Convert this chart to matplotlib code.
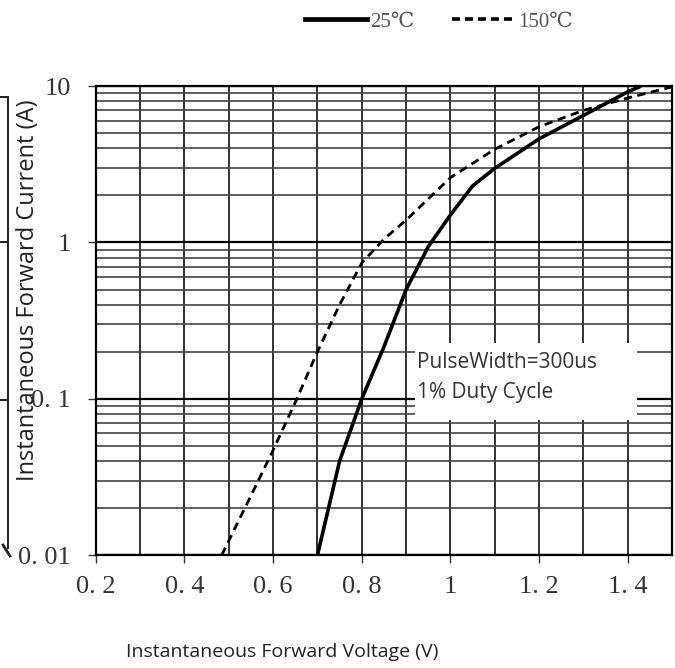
import matplotlib
matplotlib.use('Agg')
import matplotlib.pyplot as plt
from matplotlib.lines import Line2D
from matplotlib.patches import Rectangle
from matplotlib.ticker import FixedLocator, LogLocator, NullFormatter

# --- data ---
v_25 = [0.70, 0.75, 0.80, 0.85, 0.90, 0.95, 1.00, 1.05, 1.10, 1.20, 1.30, 1.40, 1.43]
i_25 = [0.01, 0.040, 0.10, 0.215, 0.50, 0.94, 1.5, 2.3, 2.98, 4.6, 6.5, 9.2, 10.0]

v_150 = [0.484, 0.55, 0.60, 0.65, 0.70, 0.75, 0.80, 0.85, 0.90, 1.00, 1.10, 1.20, 1.30, 1.40, 1.50]
i_150 = [0.01, 0.024, 0.047, 0.095, 0.20, 0.40, 0.74, 1.05, 1.39, 2.6, 3.95, 5.5, 7.0, 8.4, 9.9]

x_ticks = [0.2, 0.4, 0.6, 0.8, 1.0, 1.2, 1.4]
x_tick_labels = ['0. 2', '0. 4', '0. 6', '0. 8', '1', '1. 2', '1. 4']
y_ticks = [0.01, 0.1, 1, 10]
y_tick_labels = ['0. 01', '0. 1', '1', '10']
x_grid = [0.2 + 0.1 * k for k in range(14)]

serif = ['Liberation Serif', 'DejaVu Serif']
sans = ['Open Sans', 'DejaVu Sans']

fig = plt.figure(figsize=(6.75, 6.68), dpi=100)
ax = fig.add_axes([0.142, 0.169, 0.8536, 0.702])

ax.set_yscale('log')
ax.set_xlim(0.2, 1.5)
ax.set_ylim(0.01, 10)

# --- grid ---
ax.yaxis.set_major_locator(FixedLocator(y_ticks))
ax.yaxis.set_minor_locator(LogLocator(base=10, subs=range(2, 10)))
ax.yaxis.set_minor_formatter(NullFormatter())
ax.grid(True, which='major', axis='y', color='black', lw=1.6, zorder=1)
ax.grid(True, which='minor', axis='y', color='#444444', lw=1.2, zorder=1)
for xv in x_grid:
    ax.axvline(xv, color='#222222', lw=1.3, zorder=1)

# --- curves ---
ax.plot(v_25, i_25, color='black', lw=2.6, zorder=4, solid_capstyle='butt')
ax.plot(v_150, i_150, color='black', lw=2.0, ls=(0, (3, 2)), zorder=4)

# --- note box (white patch hiding the grid) ---
ax.add_patch(Rectangle((0.92, 0.073), 0.50, 0.227 - 0.073, fc='white',
                       ec='none', zorder=2))
ax.text(0.925, 0.171, 'PulseWidth=300us', fontsize=15, family=sans,
        color='#333333', va='center', ha='left', zorder=3)
ax.text(0.925, 0.110, '1% Duty Cycle', fontsize=15, family=sans,
        color='#333333', va='center', ha='left', zorder=3)

# --- ticks ---
ax.set_xticks(x_ticks)
ax.set_xticklabels(x_tick_labels)
ax.set_yticklabels(y_tick_labels)
ax.tick_params(axis='both', which='major', labelsize=19, colors='#333333',
               length=6, width=1, direction='out')
ax.tick_params(axis='y', which='minor', length=0)
for lab in ax.get_xticklabels() + ax.get_yticklabels():
    lab.set_family(serif)
ax.tick_params(axis='x', pad=9)
ax.tick_params(axis='y', pad=12)

for sp in ax.spines.values():
    sp.set_color('black')
    sp.set_linewidth(1.6)
    sp.set_zorder(5)

# --- axis titles ---
fig.text(282 / 675, 1 - 652 / 668, 'Instantaneous Forward Voltage (V)',
         ha='center', va='center', fontsize=14, family=sans, color='#222222')
fig.text(28 / 675, 1 - 290 / 668, 'Instantaneous Forward Current (A)',
         ha='center', va='center', fontsize=17, family=sans, color='#222222',
         rotation=90)

# --- legend ---
handles = [Line2D([], [], color='black', lw=3.4),
           Line2D([], [], color='black', lw=2.6, ls=(0, (2.2, 1.4)))]
fig.legend(handles, ['25℃', '150℃'], loc='center', ncol=2, frameon=False,
           bbox_to_anchor=(0.65, 1 - 22 / 668), handlelength=3.0,
           handletextpad=0.15, columnspacing=1.8,
           prop=dict(family=serif, size=15), labelcolor='#555555')

# --- partial frame at the left edge (cropped neighbour) ---
def px_line(xs, ys, lw=1.4):
    fig.add_artist(Line2D([x / 675 for x in xs], [1 - y / 668 for y in ys],
                          color='#222222', lw=lw, transform=fig.transFigure))

px_line([8, 8], [97, 548])
px_line([0, 8], [97, 97])
px_line([0, 8], [242, 242])
px_line([0, 8], [400, 400])
px_line([3, 10], [545, 556], lw=2)

fig.savefig('out.png', dpi=100, facecolor='white')
